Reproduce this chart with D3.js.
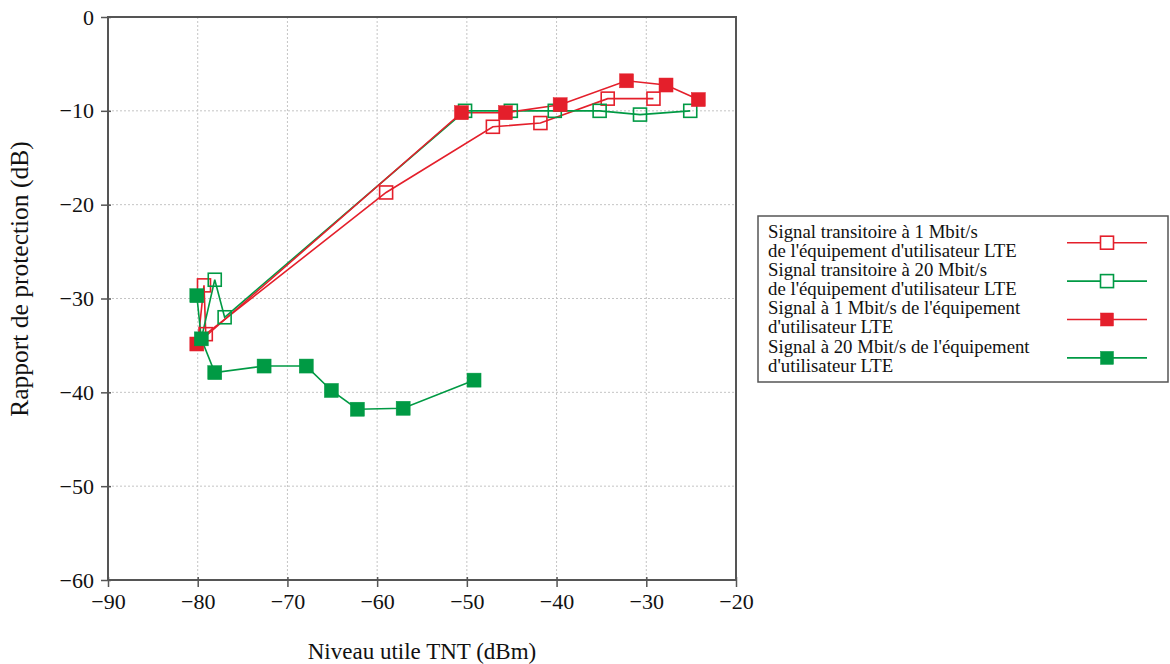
<!DOCTYPE html>
<html><head><meta charset="utf-8">
<script src="https://cdn.jsdelivr.net/npm/d3@7"></script>
<style>body{margin:0;background:#fff}svg{display:block}</style>
</head><body>
<script>
const xTicks = [-90,-80,-70,-60,-50,-40,-30,-20];
const yTicks = [0,-10,-20,-30,-40,-50,-60];
const seriesNames = [
  ["Signal transitoire à 1 Mbit/s","de l'équipement d'utilisateur LTE"],
  ["Signal transitoire à 20 Mbit/s","de l'équipement d'utilisateur LTE"],
  ["Signal à 1 Mbit/s de l'équipement","d'utilisateur LTE"],
  ["Signal à 20 Mbit/s de l'équipement","d'utilisateur LTE"]
];
const redOpenX = [-80.0,-79.3,-79.1,-59.0,-47.1,-41.8,-34.3,-29.2];
const redOpenY = [-34.8,-28.6,-33.8,-18.7,-11.7,-11.3,-8.7,-8.7];
const greenOpenX = [-79.6,-78.1,-77.0,-50.2,-45.1,-40.2,-35.2,-30.7,-25.1];
const greenOpenY = [-34.3,-28.0,-32.0,-10.0,-10.0,-10.0,-10.0,-10.4,-10.0];
const redFillX = [-80.1,-50.6,-45.7,-39.6,-32.2,-27.8,-24.2];
const redFillY = [-34.85,-10.2,-10.2,-9.35,-6.8,-7.25,-8.8];
const greenFillX = [-80.1,-79.6,-78.1,-72.6,-67.9,-65.1,-62.2,-57.1,-49.2];
const greenFillY = [-29.7,-34.3,-37.9,-37.2,-37.2,-39.8,-41.8,-41.7,-38.7];
const hiddenFirst = [true,true,false,false];

const RED="#e41f2b", GREEN="#009a44";
const series = [
  {x:redOpenX,y:redOpenY,color:RED,filled:false},
  {x:greenOpenX,y:greenOpenY,color:GREEN,filled:false},
  {x:redFillX,y:redFillY,color:RED,filled:true},
  {x:greenFillX,y:greenFillY,color:GREEN,filled:true}
];

const W=1170,H=664;
const svg=d3.select("body").append("svg").attr("width",W).attr("height",H);
const L=108,R=736,T=17,B=580;
const x=d3.scaleLinear().domain([-90,-20]).range([L,R]);
const y=d3.scaleLinear().domain([0,-60]).range([T,B]);
const font="Liberation Serif, Times New Roman, serif";

// grid
const g=svg.append("g");
g.selectAll(".gx").data(xTicks.slice(1,-1)).enter().append("line")
 .attr("x1",d=>x(d)).attr("x2",d=>x(d)).attr("y1",T).attr("y2",B)
 .attr("stroke","#c4c4c4").attr("stroke-width",1).attr("stroke-dasharray","2,2");
g.selectAll(".gy").data(yTicks.slice(1,-1)).enter().append("line")
 .attr("y1",d=>y(d)).attr("y2",d=>y(d)).attr("x1",L).attr("x2",R)
 .attr("stroke","#c4c4c4").attr("stroke-width",1).attr("stroke-dasharray","2,2");

// axes
const fmt=d=>d<0?"\u2212"+Math.abs(d):String(d);
const xa=svg.append("g").attr("transform",`translate(0,${B})`)
 .call(d3.axisBottom(x).tickValues(xTicks).tickFormat(fmt).tickSize(7).tickPadding(6));
const ya=svg.append("g").attr("transform",`translate(${L},0)`)
 .call(d3.axisLeft(y).tickValues(yTicks).tickFormat(fmt).tickSize(7).tickPadding(7));
[xa,ya].forEach(a=>{
  a.select(".domain").remove();
  a.selectAll("line").attr("stroke","#555").attr("stroke-width",1.5);
  a.selectAll("text").attr("font-family",font).attr("font-size",22).attr("fill","#111");
});
ya.selectAll(".tick line").attr("x2",-7).attr("x1",3);
xa.selectAll(".tick line").attr("y1",-3);

// frame
svg.append("rect").attr("x",L).attr("y",T).attr("width",R-L).attr("height",B-T)
 .attr("fill","none").attr("stroke","#555").attr("stroke-width",2);

// series
const line=d3.line().x(d=>x(d[0])).y(d=>y(d[1]));
series.forEach((s,i)=>{
  const pts=s.x.map((v,j)=>[v,s.y[j]]);
  svg.append("path").attr("d",line(pts)).attr("fill","none")
   .attr("stroke",s.color).attr("stroke-width",1.6);
});
series.forEach((s,i)=>{
  const pts=s.x.map((v,j)=>[v,s.y[j]]).filter((p,j)=>!(hiddenFirst[i]&&j===0));
  const sz=s.filled?14:13;
  svg.append("g").selectAll("rect").data(pts).enter().append("rect")
   .attr("x",d=>x(d[0])-sz/2).attr("y",d=>y(d[1])-sz/2)
   .attr("width",sz).attr("height",sz)
   .attr("fill",s.filled?s.color:"none")
   .attr("stroke",s.color).attr("stroke-width",s.filled?0.5:1.6);
});

// axis titles
svg.append("text").attr("x",(L+R)/2).attr("y",659).attr("text-anchor","middle")
 .attr("font-family",font).attr("font-size",23).attr("fill","#111")
 .text("Niveau utile TNT (dBm)");
svg.append("text").attr("transform",`translate(28,279) rotate(-90)`)
 .attr("text-anchor","middle").attr("font-family",font).attr("font-size",25.5).attr("fill","#111")
 .text("Rapport de protection (dB)");

// legend
const lg=svg.append("g");
lg.append("rect").attr("x",758).attr("y",216).attr("width",410).attr("height",166)
 .attr("fill","#fff").attr("stroke","#555").attr("stroke-width",1.5);
seriesNames.forEach((lines,i)=>{
  const y0=237.5+i*38.4;
  lines.forEach((t,k)=>{
    lg.append("text").attr("x",768).attr("y",y0+k*19).attr("font-family",font)
     .attr("font-size",18.8).attr("fill","#111").text(t);
  });
  const my=242.7+i*38.4;
  lg.append("line").attr("x1",1067).attr("x2",1147).attr("y1",my).attr("y2",my)
   .attr("stroke",series[i].color).attr("stroke-width",1.6);
  lg.append("rect").attr("x",1107-6.5).attr("y",my-6.5).attr("width",13).attr("height",13)
   .attr("fill",series[i].filled?series[i].color:"#fff")
   .attr("stroke",series[i].color).attr("stroke-width",series[i].filled?0.5:1.6);
});
</script>
</body></html>
